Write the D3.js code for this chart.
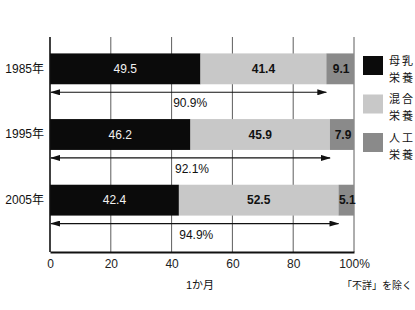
<!DOCTYPE html>
<html>
<head>
<meta charset="utf-8">
<script src="https://cdn.jsdelivr.net/npm/d3@7"></script>
<style>
  body { margin: 0; background: #fff; }
  text { font-family: "Liberation Sans", "Noto Sans CJK JP", sans-serif; }
</style>
</head>
<body>
<svg id="viz"></svg>
<script>
/* Data */

const years = ["1985年", "1995年", "2005年"];
const breast = [49.5, 46.2, 42.4];
const mixed = [41.4, 45.9, 52.5];
const formula = [9.1, 7.9, 5.1];
const totals = ["90.9%", "92.1%", "94.9%"];
const ticks = [0, 20, 40, 60, 80, 100];
const legendNames = [["母乳", "栄養"], ["混合", "栄養"], ["人工", "栄養"]];

/* Environment */

const width = 415, height = 310;
const svg = d3.select("#viz").attr("width", width).attr("height", height);

const colors = ["#0b0b0b", "#c8c8c8", "#8a8a8a"];
const keys = ["breast", "mixed", "formula"];

const rows = years.map((y, i) => ({year: y, breast: breast[i], mixed: mixed[i], formula: formula[i], total: totals[i]}));
const series = d3.stack().keys(keys)(rows);

/* Scales */

const x = d3.scaleLinear().domain([0, 100]).range([50, 354]);
const yBand = d3.scaleBand().domain(years).range([37, 232]).paddingInner(0.53).paddingOuter(0.25);

/* Grid */

svg.append("g").selectAll("line")
    .data(ticks.slice(1))
    .join("line")
    .attr("x1", d => x(d)).attr("x2", d => x(d))
    .attr("y1", 37).attr("y2", 252)
    .attr("stroke", "#333").attr("stroke-width", 0.8);

/* Bars */

svg.append("g").selectAll("g")
    .data(series)
    .join("g")
    .attr("fill", (d, i) => colors[i])
    .selectAll("rect")
    .data(d => d)
    .join("rect")
    .attr("x", d => x(d[0]))
    .attr("width", d => x(d[1]) - x(d[0]))
    .attr("y", d => yBand(d.data.year))
    .attr("height", yBand.bandwidth());

/* Bar labels */

series.forEach((s, si) => {
  svg.append("g").selectAll("text")
      .data(s)
      .join("text")
      .attr("x", d => si === 2 ? x(d[0]) + 1 + (x(d[1]) - x(d[0])) / 2 : (x(d[0]) + x(d[1])) / 2)
      .attr("y", d => yBand(d.data.year) + yBand.bandwidth() / 2)
      .attr("dy", "0.36em")
      .attr("text-anchor", "middle")
      .attr("font-size", 12)
      .attr("font-weight", si === 0 ? "normal" : "bold")
      .attr("fill", si === 0 ? "#f2f2f2" : "#111")
      .text(d => d.data[keys[si]]);
});

/* Arrows */

svg.append("defs").selectAll("marker")
    .data(["head"])
    .join("marker")
    .attr("id", "head")
    .attr("viewBox", "0 0 10 6")
    .attr("refX", 9).attr("refY", 3)
    .attr("markerWidth", 10).attr("markerHeight", 6)
    .attr("markerUnits", "userSpaceOnUse")
    .attr("orient", "auto-start-reverse")
    .append("path")
    .attr("d", "M0,0L10,3L0,6Z")
    .attr("fill", "#111");

const arrows = svg.append("g").selectAll("g")
    .data(rows)
    .join("g");

arrows.append("line")
    .attr("x1", x(0) + 1)
    .attr("x2", d => x(d.breast + d.mixed))
    .attr("y1", d => yBand(d.year) + yBand.bandwidth() + 8)
    .attr("y2", d => yBand(d.year) + yBand.bandwidth() + 8)
    .attr("stroke", "#111").attr("stroke-width", 1.2)
    .attr("marker-start", "url(#head)")
    .attr("marker-end", "url(#head)");

arrows.append("text")
    .attr("x", d => x((d.breast + d.mixed) / 2) + 2)
    .attr("y", d => yBand(d.year) + yBand.bandwidth() + 19)
    .attr("dy", "0.35em")
    .attr("text-anchor", "middle")
    .attr("font-size", 12)
    .attr("fill", "#111")
    .text(d => d.total);

/* Axes */

svg.append("g")
    .attr("transform", "translate(0,252)")
    .call(d3.axisBottom(x).tickValues(ticks).tickSize(0).tickPadding(7)
      .tickFormat(d => d === 100 ? "100%" : d))
    .call(g => g.select(".domain").attr("stroke", "#111").attr("stroke-width", 2))
    .call(g => g.selectAll("text").attr("font-size", 12).attr("fill", "#222"));

svg.append("g")
    .attr("transform", "translate(50,0)")
    .call(d3.axisLeft(yBand).tickSize(0).tickPadding(6))
    .call(g => g.select(".domain").attr("stroke", "#111").attr("stroke-width", 1.6)
      .attr("d", "M0,37V252"))
    .call(g => g.selectAll("text").attr("font-size", 12).attr("fill", "#111"));

/* Legend */

const legend = svg.append("g").selectAll("g")
    .data(legendNames)
    .join("g")
    .attr("transform", (d, i) => `translate(363,${56 + i * 38.5})`);

legend.append("rect")
    .attr("width", 20).attr("height", 19)
    .attr("fill", (d, i) => colors[i]);

legend.selectAll("text")
    .data(d => d)
    .join("text")
    .attr("x", 26)
    .attr("y", (d, i) => 5 + i * 17)
    .attr("dy", "0.35em")
    .attr("font-size", 11)
    .attr("letter-spacing", 2)
    .attr("fill", "#111")
    .text(d => d);

/* Notes */

svg.append("text")
    .attr("x", 200).attr("y", 289)
    .attr("text-anchor", "middle")
    .attr("font-size", 11)
    .attr("fill", "#111")
    .text("1か月");

svg.append("text")
    .attr("x", 342).attr("y", 289)
    .attr("font-size", 10)
    .attr("fill", "#111")
    .text("「不詳」を除く");
</script>
</body>
</html>
